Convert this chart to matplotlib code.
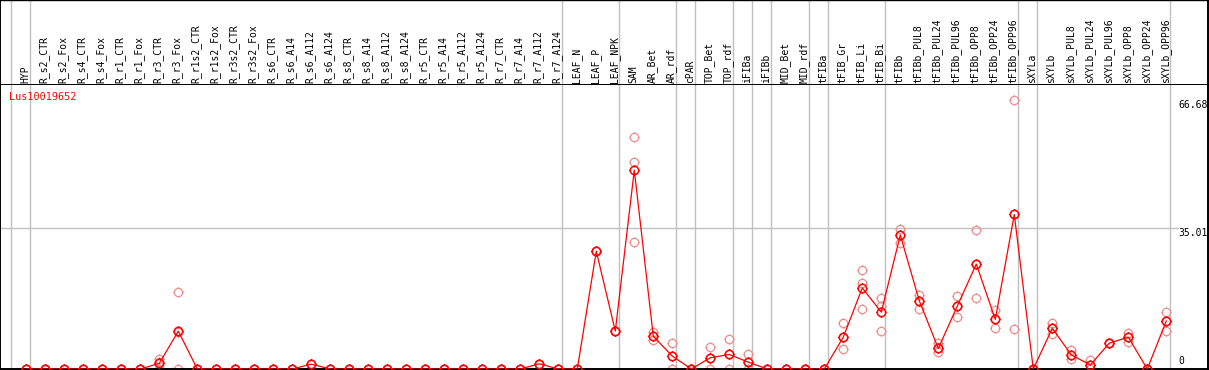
import numpy as np
import matplotlib
matplotlib.use("Agg")
import matplotlib.pyplot as plt
from matplotlib.path import Path
import matplotlib.transforms as mtrans

gene = "Lus10019652"

samples = ["HYP", "R_s2_CTR", "R_s2_Fox", "R_s4_CTR", "R_s4_Fox", "R_r1_CTR",
           "R_r1_Fox", "R_r3_CTR", "R_r3_Fox", "R_r1s2_CTR", "R_r1s2_Fox",
           "R_r3s2_CTR", "R_r3s2_Fox", "R_s6_CTR", "R_s6_A14", "R_s6_A112",
           "R_s6_A124", "R_s8_CTR", "R_s8_A14", "R_s8_A112", "R_s8_A124",
           "R_r5_CTR", "R_r5_A14", "R_r5_A112", "R_r5_A124", "R_r7_CTR",
           "R_r7_A14", "R_r7_A112", "R_r7_A124", "LEAF_N", "LEAF_P", "LEAF_NPK",
           "SAM", "AR_Bet", "AR_rdf", "cPAR", "TOP_Bet", "TOP_rdf", "iFIBa",
           "iFIBb", "MID_Bet", "MID_rdf", "tFIBa", "tFIB_Gr", "tFIB_Li",
           "tFIB_Bi", "tFIBb", "tFIBb_PUL8", "tFIBb_PUL24", "tFIBb_PUL96",
           "tFIBb_OPP8", "tFIBb_OPP24", "tFIBb_OPP96", "sXYLa", "sXYLb",
           "sXYLb_PUL8", "sXYLb_PUL24", "sXYLb_PUL96", "sXYLb_OPP8",
           "sXYLb_OPP24", "sXYLb_OPP96"]

mean_expr = [0, 0, 0, 0, 0, 0, 0, 1.4, 9.4, 0, 0, 0, 0, 0, 0, 1.2, 0, 0, 0, 0,
             0, 0, 0, 0, 0, 0, 0, 1.3, 0, 0, 29.2, 9.4, 49.3, 8.1, 3.2, 0, 2.8,
             3.6, 1.7, 0, 0, 0, 0, 7.9, 20.1, 14.1, 33.2, 16.9, 5.1, 15.6, 26.0,
             12.3, 38.3, 0, 10.1, 3.5, 1.0, 6.4, 7.9, 0, 11.9]

rep_a = [0, 0, 0, 0, 0, 0, 0, 2.5, 19.0, 0, 0, 0, 0, 0, 0, 1.2, 0, 0, 0, 0,
         0, 0, 0, 0, 0, 0, 0, 1.3, 0, 0, 29.2, 9.4, 57.5, 9.1, 6.4, 0, 5.5,
         7.4, 3.7, 0, 0, 0, 0, 11.3, 24.5, 17.5, 34.6, 18.3, 6.4, 18.1, 34.5,
         14.6, 66.68, 0, 11.5, 4.7, 2.2, 6.4, 9.0, 0, 14.1]
rep_b = [0, 0, 0, 0, 0, 0, 0, 1.7, 9.2, 0, 0, 0, 0, 0, 0, 1.2, 0, 0, 0, 0,
         0, 0, 0, 0, 0, 0, 0, 1.3, 0, 0, 29.2, 9.4, 51.3, 8.1, 3.2, 0, 2.8,
         3.6, 1.7, 0, 0, 0, 0, 7.9, 21.2, 15.7, 33.2, 16.9, 5.1, 15.6, 26.0,
         12.3, 38.3, 0, 10.1, 3.5, 1.0, 6.4, 7.9, 0, 11.9]
rep_c = [0, 0, 0, 0, 0, 0, 0, 0, 0, 0, 0, 0, 0, 0, 0, 1.2, 0, 0, 0, 0,
         0, 0, 0, 0, 0, 0, 0, 1.3, 0, 0, 29.2, 9.4, 31.4, 7.2, 0, 0, 0,
         0, 0, 0, 0, 0, 0, 4.9, 14.8, 9.4, 31.3, 14.9, 4.1, 13.0, 17.5,
         10.1, 9.8, 0, 8.7, 2.4, 0, 6.4, 6.7, 0, 9.4]

# group boundaries (separator drawn just right of these sample indices)
group_ends = [-1, 0, 28, 31, 34, 35, 37, 38, 39, 41, 42, 45, 52, 53, 60]
y_ticks = [0, 35.01, 66.68]

W, H = 1209, 370
fig = plt.figure(figsize=(W / 100, H / 100), dpi=100)
mono = "DejaVu Sans Mono"
grey = "#c0c0c0"

step = 19.0
x0 = 26.3
xl = (-x0 / step, (1208 - x0) / step)

# header with sample names
axh = fig.add_axes([0, 285 / H, 1208 / W, 85 / H])
axh.set_xlim(xl)
axh.set_ylim(0, 1)
axh.set_xticks([])
axh.set_yticks([])
for s in axh.spines.values():
    s.set_color("black")
    s.set_linewidth(1.4)
axh.spines["top"].set_linewidth(1.0)
for g in group_ends:
    axh.axvline(g + 0.21, color=grey, lw=1.0)
for i, name in enumerate(samples):
    axh.text(i - 0.06, 0.025, name, rotation=90, ha="center", va="bottom",
             family=mono, fontsize=7)

# plot area
ax = fig.add_axes([0, 1 / H, 1208 / W, 284 / H])
px_per_unit = 269 / 66.68
ax.set_xlim(xl)
ax.set_ylim(0, 284 / px_per_unit)
ax.set_xticks([])
ax.set_yticks([])
ax.spines["top"].set_visible(False)
for k in ["left", "right", "bottom"]:
    ax.spines[k].set_color("black")
    ax.spines[k].set_linewidth(1.4)
for g in group_ends:
    ax.axvline(g + 0.21, color=grey, lw=1.0, zorder=0)
ax.hlines(35.01, xl[0], (1178 - x0) / step, color=grey, lw=1.0, zorder=0)

# circle marker with little ticks
circ = Path.unit_circle()
tk = 1.2
tick_path = Path([(1, 0), (tk, 0), (-1, 0), (-tk, 0), (0, 1), (0, tk), (0, -1), (0, -tk)],
                 [Path.MOVETO, Path.LINETO] * 4)
mk = Path.make_compound_path(circ, tick_path)

xs = np.arange(len(samples))
for reps in [rep_a, rep_b, rep_c]:
    ax.plot(xs, reps, linestyle="none", marker=mk, markersize=7.2,
            markerfacecolor="none", markeredgecolor="#f08c8c", mew=0.9, zorder=2)
ax.plot(xs, mean_expr, color="red", lw=0.9, zorder=3)
ax.plot(xs, mean_expr, linestyle="none", marker=mk, markersize=7.2,
        markerfacecolor="none", markeredgecolor="red", mew=1.1, zorder=4)

fig.text(9 / W, 1 - 97 / H, gene, color="red", family=mono, fontsize=7.3,
         ha="left", va="center")

tr = mtrans.blended_transform_factory(ax.transAxes, ax.transData)
lx = 1178 / 1208
ax.text(lx, 66.68, "%.2f" % y_ticks[2], transform=tr, family=mono, fontsize=7,
        ha="left", va="top")
ax.text(lx, 35.01, "%.2f" % y_ticks[1], transform=tr, family=mono, fontsize=7,
        ha="left", va="top")
ax.text(lx, 0.8, "%d" % y_ticks[0], transform=tr, family=mono, fontsize=7,
        ha="left", va="bottom")

fig.savefig("out.png", dpi=100)
